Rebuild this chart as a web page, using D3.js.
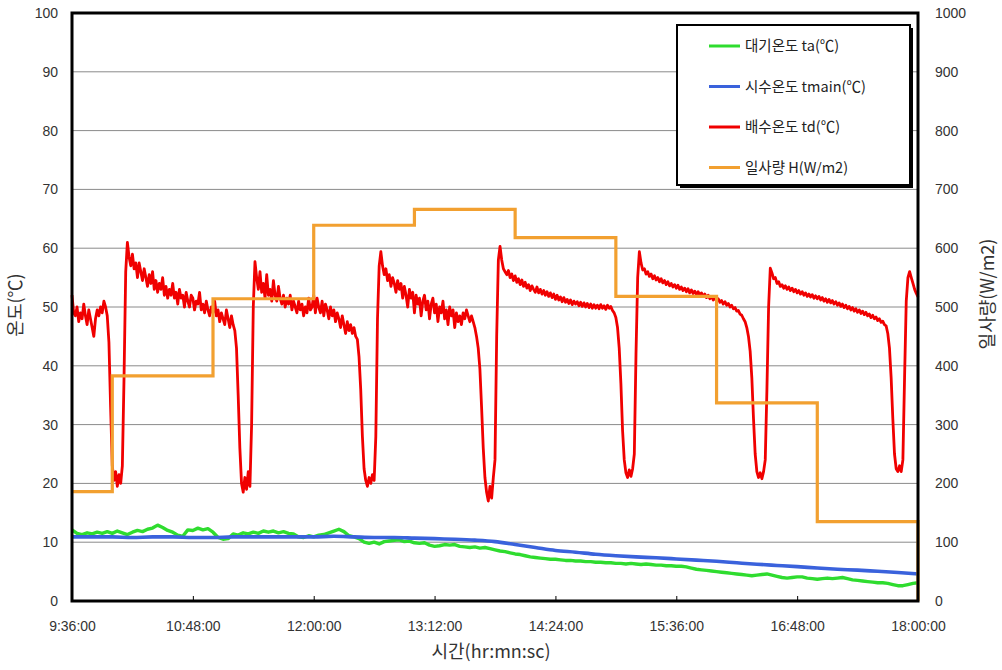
<!DOCTYPE html>
<html>
<head>
<meta charset="utf-8">
<script src="https://cdn.jsdelivr.net/npm/d3@7"></script>
<style>
  body { margin: 0; background: #fff; }
  text { font-family: "Liberation Sans", "Noto Sans CJK KR", sans-serif; }
  .kr { font-family: "Noto Sans CJK KR", "Liberation Sans", sans-serif; }
</style>
</head>
<body>
<svg id="chart" width="1002" height="670"></svg>
<script>
// ---- data ----------------------------------------------------------------
const timeTicks = ["9:36:00", "10:48:00", "12:00:00", "13:12:00", "14:24:00", "15:36:00", "16:48:00", "18:00:00"];
const tempTicks = [0, 10, 20, 30, 40, 50, 60, 70, 80, 90, 100];
const solarTicks = [0, 100, 200, 300, 400, 500, 600, 700, 800, 900, 1000];

const seriesStart = "9:36:00";

// 배수온도 td (℃), logged every minute from 9:36
const tdIntervalMin = 1;
const tdValues = [
  52, 49, 48.5, 50, 47.5, 49, 48, 50.5, 48.5, 47, 49.5, 48, 46.5, 45, 48, 49.5, 48.5, 50, 49, 51, 50,
  48.5, 44, 33, 23, 20.5, 22, 19.5, 21.5, 20, 23, 38, 56, 61,
  58.5, 57, 59, 56.5, 57.5, 55, 57.5, 56, 54.5, 56.5,
  55, 53.5, 55.5, 54, 56, 53, 54.5, 52.5, 54, 53,
  55, 52, 53.5, 51.5, 53, 52, 54, 51.5, 52.5, 50.5,
  53, 51.5, 52, 50, 52.5, 51, 50, 52, 51.5, 49.5,
  51, 50.5, 52.5, 49.5, 50.5, 49, 51, 49.5, 48.5, 50,
  49, 51, 48.5, 49.5, 47.5, 49, 48, 47, 49.5, 48,
  46.5, 48.5, 47, 46,
  43, 35, 26, 20, 18.5, 21, 19, 22, 19.5, 30, 50, 57.7,
  55, 53, 56, 52.5, 54, 51.5, 55.5, 52, 53, 51,
  54.5, 52, 51, 53.5, 51.5, 50.5, 52, 50, 51.5, 50.5,
  52, 49.5, 51, 50, 49, 51, 49.5, 50.5, 48.5, 50,
  49, 51.5, 49.5, 50, 52, 49, 51.5, 50, 49, 51,
  48.5, 50.5, 49.5, 48, 50, 48.5, 49.5, 47.5, 49, 48,
  46.5, 48.5, 47, 45.5, 47.5, 46, 47, 45.5, 46.5, 45,
  44.5, 41.5,
  36, 28, 22.5, 20.5, 19.5, 21, 20, 21.5, 20.5, 28, 48, 57, 59.4,
  57, 55.5, 56.5, 54.5, 55.5, 53.5, 55, 54, 52.5, 54.5,
  53, 54, 51.5, 53.5, 52, 50, 53, 51.5, 52.5, 49,
  52, 50.5, 51.5, 48.5, 51, 52, 49.5, 51, 48, 50.5,
  51.5, 49, 50.5, 47.5, 50, 49, 51, 48, 49.5, 47,
  50, 48.5, 49.5, 46.5, 49, 47.5, 48.5, 47, 49, 48,
  49.5, 48.5, 47.5, 48.5, 47.5, 46.5, 45, 43, 39.5,
  33, 26, 21, 18.5, 17, 19.5, 17.5, 21, 24, 45, 58, 60.3,
  58, 56.5, 56, 55.5, 56.2, 55, 55.6, 54.5, 55.3, 54.2,
  54.8, 53.8, 54.6, 53.5, 54.2, 53.2, 53.8, 52.8, 53.6, 53,
  52.5, 53.4, 52.4, 53, 52.2, 52.8, 52, 52.6, 51.8, 52.4,
  51.6, 52.2, 51.3, 52, 51.2, 51.7, 50.9, 51.6, 50.8, 51.3,
  50.6, 51.2, 50.4, 51, 50.5, 50.9, 50.2, 50.8, 50.1, 50.7,
  50, 50.6, 49.9, 50.5, 49.8, 50.4, 49.8, 50.3, 49.7, 50.4,
  49.8, 50.2, 49.6, 50.3, 49.8, 50.1, 49.4, 49, 48.2, 46.5,
  43, 37, 29, 24, 21.8, 21, 22.3, 21.2, 22.5, 25, 42, 55, 59.4,
  57.5, 56.3, 56.5, 55.6, 56, 55.2, 55.6, 54.8, 55.3, 54.6,
  55, 54.3, 54.8, 54.1, 54.5, 53.8, 54.3, 53.6, 54, 53.4,
  53.8, 53.2, 53.7, 53, 53.4, 52.8, 53.2, 52.6, 53.1, 52.4,
  52.9, 52.3, 52.7, 52.1, 52.6, 52, 52.4, 51.8, 52.2, 51.6,
  52, 51.4, 51.8, 51.2, 51.6, 51, 51.4, 50.8, 51.1, 50.5,
  50.9, 50.3, 50.6, 50, 50.3, 49.7, 49.9, 49.3, 49.4, 48.8,
  48.6, 48, 47.5, 46.5, 45, 42.5,
  38, 31, 25, 22, 21, 21.8, 20.8, 22, 24, 36, 50, 56.6,
  55.8, 54.8, 55, 54, 54.3, 53.5, 53.8, 53.2, 53.6, 53,
  53.4, 52.8, 53.2, 52.6, 53, 52.4, 52.8, 52.2, 52.6, 52,
  52.4, 51.8, 52.2, 51.7, 52.1, 51.5, 51.9, 51.4, 51.8, 51.2,
  51.6, 51, 51.4, 50.8, 51.3, 50.7, 51.1, 50.5, 50.9, 50.3,
  50.7, 50.1, 50.5, 49.9, 50.3, 49.7, 50.1, 49.5, 49.9, 49.3,
  49.7, 49.1, 49.5, 48.9, 49.3, 48.7, 49.1, 48.5, 48.8, 48.2,
  48.6, 48, 48.3, 47.7, 48, 47.4, 47.6, 47, 46.8, 45.5, 43,
  38, 31, 25, 22.5, 22, 23, 22, 24, 38, 51, 55, 56, 55, 54, 53, 52.3, 51.7
];

// 대기온도 ta (℃), logged every 3 minutes
const taIntervalMin = 3;
const taValues = [
  12.1, 11.5, 11.3, 11.6, 11.4, 11.7, 11.5, 11.8, 11.5, 11.9, 11.6, 11.3, 11.7, 12.0, 11.8,
  12.2, 12.4, 12.9, 12.5, 12.0, 11.7, 11.2, 11.0, 12.1, 12.0, 12.4, 12.1, 12.3, 11.7, 10.8,
  10.5, 10.6, 11.4, 11.2, 11.6, 11.4, 11.7, 11.5, 11.9, 11.7, 11.9, 11.6, 11.8, 11.5, 11.4,
  10.9, 10.8, 11.1, 10.9, 11.2, 11.3, 11.6, 11.9, 12.2, 11.8, 11.1, 10.9, 10.6, 10.0, 9.8,
  10.0, 9.7, 10.1, 10.2, 10.3, 10.4, 10.1, 10.2, 9.9, 9.8, 9.9, 9.5, 9.3, 9.4, 9.6,
  9.5, 9.6, 9.3, 9.2, 9.1, 9.2, 9.0, 9.1, 8.9, 8.7, 8.5, 8.4, 8.2, 8.0, 7.9,
  7.7, 7.5, 7.4, 7.3, 7.2, 7.1, 7.1, 7.0, 6.9, 6.9, 6.8, 6.8, 6.7, 6.7, 6.6,
  6.6, 6.5, 6.5, 6.4, 6.4, 6.3, 6.4, 6.3, 6.2, 6.3, 6.2, 6.1, 6.1, 6.0, 6.0,
  5.9, 5.9, 5.8, 5.6, 5.4, 5.3, 5.2, 5.1, 5.0, 4.9, 4.8, 4.7, 4.6, 4.5, 4.4,
  4.3, 4.4, 4.5, 4.6, 4.4, 4.2, 4.0, 3.9, 4.0, 4.1, 4.1, 3.9, 3.8, 3.7, 3.8,
  3.9, 3.8, 3.9, 4.0, 3.8, 3.6, 3.5, 3.4, 3.3, 3.2, 3.1, 3.1, 3.0, 2.8, 2.6,
  2.6, 2.8, 3.0, 3.1
];

// 시수온도 tmain (℃), logged every 12 minutes
const tmainIntervalMin = 12;
const tmainValues = [
  10.9, 10.9, 10.9, 10.8, 10.9, 10.9, 10.8, 10.8, 10.9, 10.9, 10.9, 10.9, 10.9, 11.0, 10.9,
  10.8, 10.8, 10.7, 10.6, 10.5, 10.35, 10.1, 9.6, 9.1, 8.6, 8.3, 7.95, 7.7, 7.5, 7.35,
  7.15, 6.95, 6.75, 6.5, 6.25, 6.05, 5.85, 5.6, 5.4, 5.25, 5.05, 4.85, 4.6
];

// 일사량 H (W/m2), hourly readings held until the next one
const solarTimes = ["9:36:00", "10:00:00", "11:00:00", "12:00:00", "13:00:00", "14:00:00", "15:00:00", "16:00:00", "17:00:00", "18:00:00"];
const solarValues = [186, 383, 514, 639, 666, 618, 518, 337, 135, 0];

// ---- helpers -------------------------------------------------------------
function toDate(hms) {
  const [h, m, s] = hms.split(":").map(Number);
  return new Date(2000, 0, 1, h, m, s);
}
const t0 = toDate(seriesStart);
function sampled(values, stepMin) {
  return values.map((v, i) => ({ t: new Date(t0.getTime() + i * stepMin * 60000), v }));
}

// ---- layout --------------------------------------------------------------
const svg = d3.select("#chart");
const L = 72, R = 918, T = 13, B = 601;

const x = d3.scaleTime().domain([toDate(timeTicks[0]), toDate(timeTicks[timeTicks.length - 1])]).range([L, R]);
const yL = d3.scaleLinear().domain([0, 100]).range([B, T]);
const yR = d3.scaleLinear().domain([0, 1000]).range([B, T]);

// horizontal grid
svg.append("g")
  .selectAll("line")
  .data(tempTicks.filter(d => d > 0 && d < 100))
  .join("line")
  .attr("x1", L).attr("x2", R)
  .attr("y1", d => yL(d)).attr("y2", d => yL(d))
  .attr("stroke", "#8a8a8a").attr("stroke-width", 1);

// series
const lineL = d3.line().x(d => x(d.t)).y(d => yL(d.v));
const lineStep = d3.line().x(d => x(d.t)).y(d => yR(d.v)).curve(d3.curveStepAfter);

svg.append("path").datum(sampled(taValues, taIntervalMin))
  .attr("d", lineL).attr("fill", "none")
  .attr("stroke", "#2fdc2f").attr("stroke-width", 3.4).attr("stroke-linejoin", "round");

svg.append("path").datum(sampled(tmainValues, tmainIntervalMin))
  .attr("d", d3.line().x(d => x(d.t)).y(d => yL(d.v)).curve(d3.curveMonotoneX)).attr("fill", "none")
  .attr("stroke", "#3a62dc").attr("stroke-width", 3.6);

svg.append("path").datum(sampled(tdValues, tdIntervalMin))
  .attr("d", lineL).attr("fill", "none")
  .attr("stroke", "#f00000").attr("stroke-width", 2.8).attr("stroke-linejoin", "round");

svg.append("path").datum(solarTimes.map((s, i) => ({ t: toDate(s), v: solarValues[i] })))
  .attr("d", lineStep).attr("fill", "none")
  .attr("stroke", "#f2a030").attr("stroke-width", 3.2);

// axes
const axisLeft = d3.axisLeft(yL).tickValues(tempTicks).tickSize(0).tickPadding(14);
const axisRight = d3.axisRight(yR).tickValues(solarTicks).tickFormat(d3.format("d")).tickSize(0).tickPadding(17);
const axisBottom = d3.axisBottom(x)
  .tickValues(timeTicks.map(toDate))
  .tickFormat((d, i) => timeTicks[i])
  .tickSizeInner(-5).tickSizeOuter(0).tickPadding(20);

function styleAxis(g) {
  g.select(".domain").remove();
  g.selectAll("text").attr("font-size", 14).attr("fill", "#333");
  g.selectAll("line").attr("stroke", "#000");
}
svg.append("g").attr("transform", `translate(${L},0)`).call(axisLeft).call(styleAxis);
svg.append("g").attr("transform", `translate(${R},0)`).call(axisRight).call(styleAxis);
svg.append("g").attr("transform", `translate(0,${B})`).call(axisBottom).call(styleAxis);

// plot frame
svg.append("rect")
  .attr("x", L).attr("y", T).attr("width", R - L).attr("height", B - T)
  .attr("fill", "none").attr("stroke", "#000").attr("stroke-width", 3);

// axis titles
svg.append("text").attr("class", "kr")
  .attr("transform", "translate(22,305) rotate(-90)")
  .attr("text-anchor", "middle").attr("font-size", 18).attr("fill", "#333")
  .text("온도(℃)");
svg.append("text").attr("class", "kr")
  .attr("transform", "translate(994,294) rotate(-90)")
  .attr("text-anchor", "middle").attr("font-size", 18).attr("fill", "#333")
  .text("일사량(W/m2)");
svg.append("text").attr("class", "kr")
  .attr("x", 491).attr("y", 658)
  .attr("text-anchor", "middle").attr("font-size", 18).attr("fill", "#333")
  .text("시간(hr:mn:sc)");

// legend
const legendItems = [
  { label: "대기온도 ta(℃)", color: "#2fdc2f" },
  { label: "시수온도 tmain(℃)", color: "#3a62dc" },
  { label: "배수온도 td(℃)", color: "#f00000" },
  { label: "일사량 H(W/m2)", color: "#f2a030" }
];
const lg = svg.append("g").attr("transform", "translate(677,25)");
lg.append("rect").attr("x", 3).attr("y", 3).attr("width", 233).attr("height", 160).attr("fill", "#000");
lg.append("rect").attr("width", 233).attr("height", 160).attr("fill", "#fff").attr("stroke", "#000").attr("stroke-width", 2);
const rows = lg.selectAll("g.row").data(legendItems).join("g")
  .attr("class", "row")
  .attr("transform", (d, i) => `translate(0,${21 + i * 40.5})`);
rows.append("line").attr("x1", 32).attr("x2", 63).attr("y1", 0).attr("y2", 0)
  .attr("stroke", d => d.color).attr("stroke-width", 3);
rows.append("text").attr("class", "kr").attr("x", 68).attr("y", 0).attr("dy", "0.35em")
  .attr("font-size", 14.5).attr("fill", "#222")
  .text(d => d.label);
</script>
</body>
</html>
